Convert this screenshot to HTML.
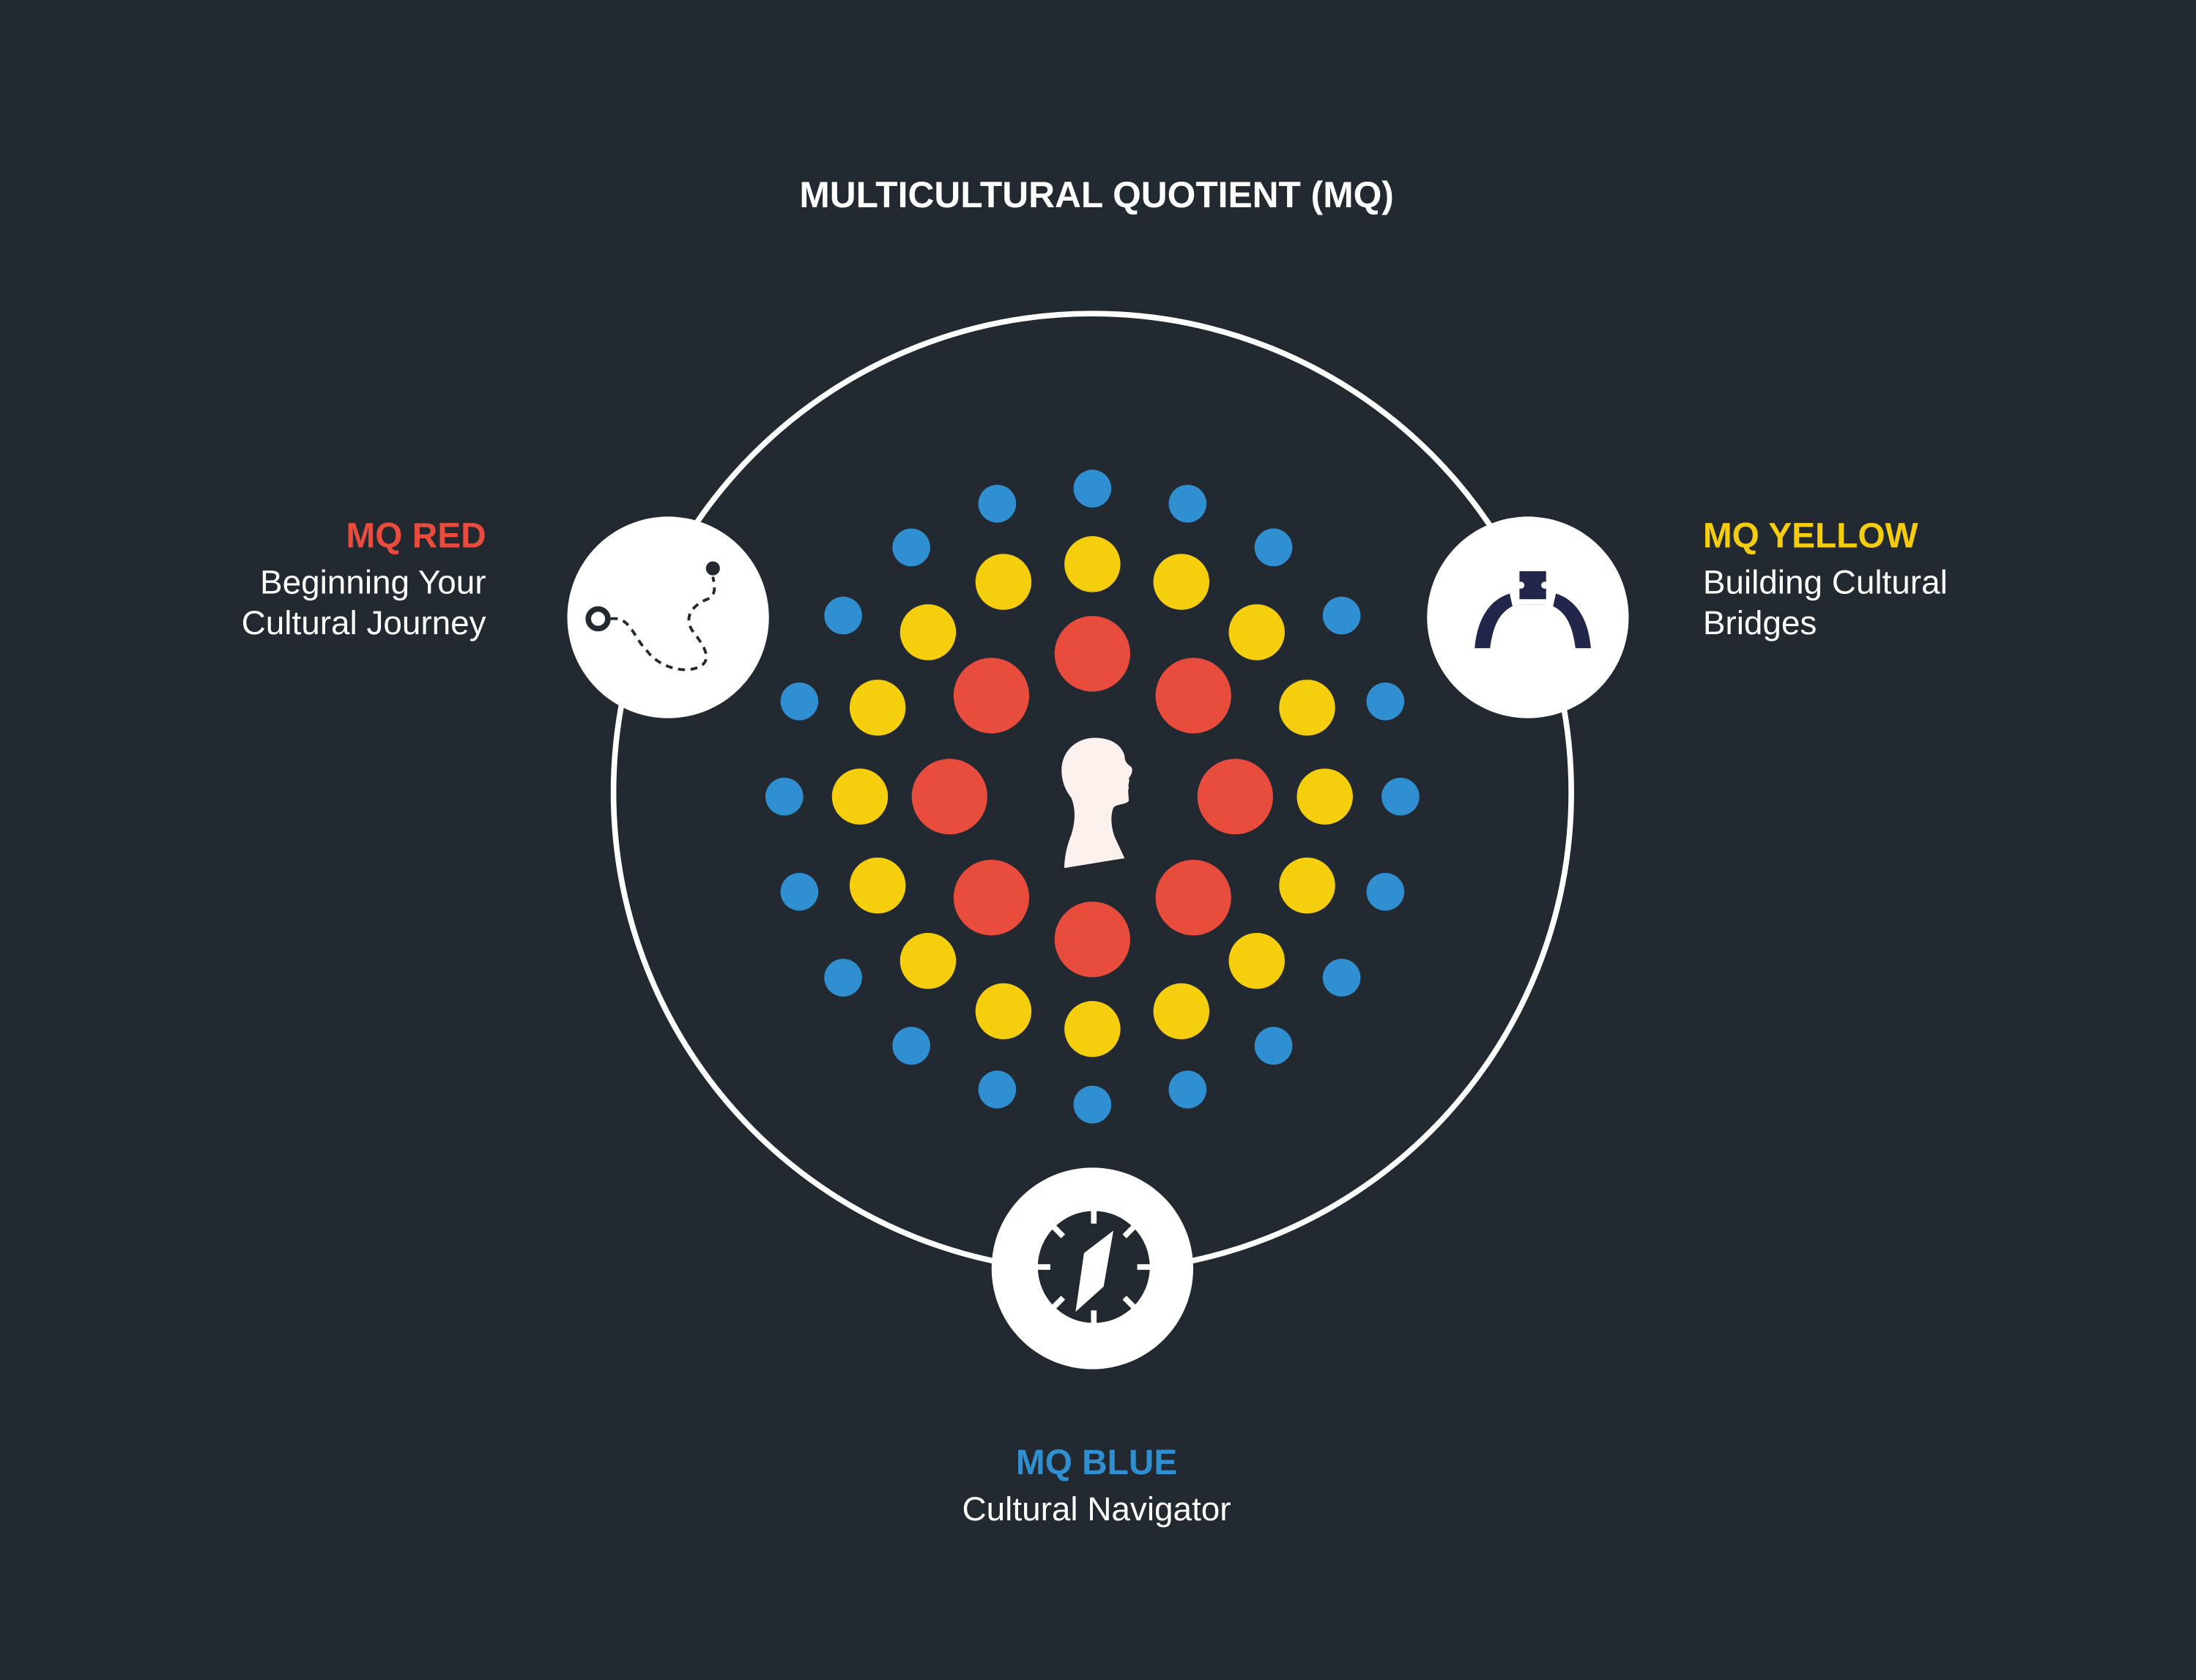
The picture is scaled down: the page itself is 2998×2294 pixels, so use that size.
<!DOCTYPE html>
<html><head><meta charset="utf-8"><style>
html,body{margin:0;padding:0;background:#232930;}
svg{display:block}
text{font-family:"Liberation Sans",sans-serif}
</style></head><body>
<svg id="chart" width="2998" height="2294" viewBox="0 0 1568 1200" xmlns="http://www.w3.org/2000/svg">
<rect width="1568" height="1200" fill="#232930"/>
<text x="783" y="148" text-anchor="middle" fill="#fff" font-size="26" font-weight="bold">MULTICULTURAL QUOTIENT (MQ)</text>
<circle cx="780" cy="566" r="342" fill="none" stroke="#fff" stroke-width="4"/>
<g id="dots"></g>
<path fill="#fdf1ed" d="M782 527 C768 527 758 537 758 550 C758 560 762 566 765 570 C768 578 768 586 765 596 C761 606 760 614 760 620 L803 613 L796 598 C793 590 793 582 795 577 C797 574 804 575 806 572 C806 568 805 565 806 563 C805 560 807 558 806 556 C808 553 809 551 808 548 C805 546 803 544 803 540 C801 532 793 527 782 527 Z"/>
<g>
<circle cx="477" cy="441" r="72" fill="#fff"/>
<circle cx="427" cy="442" r="7" fill="none" stroke="#232930" stroke-width="4"/>
<circle cx="509" cy="406" r="5" fill="#232930"/>
<path d="M436 442 C450 440 452 455 462 465 C470 476 488 482 500 476 C510 470 500 458 494 450 C488 440 495 432 505 428 C512 425 510 418 509 412" fill="none" stroke="#232930" stroke-width="2" stroke-dasharray="5 4"/>
</g>
<g>
<circle cx="1091" cy="441" r="72" fill="#fff"/>
<path d="M1053 463 C1055 440 1065 428 1078 424 L1080 433 C1070 438 1066 448 1064 463 Z M1136 463 C1134 440 1124 428 1111 424 L1109 433 C1119 438 1123 448 1125 463 Z" fill="#22264a"/>
<rect x="1085" y="408" width="19" height="24" fill="#22264a"/>
<rect x="1084" y="428" width="21" height="4" fill="#fff"/>
<circle cx="1086" cy="418" r="2.5" fill="#fff"/><circle cx="1103" cy="418" r="2.5" fill="#fff"/>
</g>
<g>
<circle cx="780" cy="906" r="72" fill="#fff"/>
<circle cx="781" cy="905" r="40" fill="#232930"/>
<g id="ticks" stroke="#fff" stroke-width="4"></g>
<path d="M795 879 L788 919 L768 937 L774 895 Z" fill="#fff"/>
</g>
<text x="347" y="391" text-anchor="end" fill="#e84c3d" font-size="25" font-weight="bold">MQ RED</text>
<text x="347" y="424" text-anchor="end" fill="#fff" font-size="24">Beginning Your</text>
<text x="347" y="453" text-anchor="end" fill="#fff" font-size="24">Cultural Journey</text>
<text x="1216" y="391" fill="#f5cd0f" font-size="25" font-weight="bold">MQ YELLOW</text>
<text x="1216" y="424" fill="#fff" font-size="24">Building Cultural</text>
<text x="1216" y="453" fill="#fff" font-size="24">Bridges</text>
<text x="783" y="1053" text-anchor="middle" fill="#2f8fd0" font-size="25" font-weight="bold">MQ BLUE</text>
<text x="783" y="1086" text-anchor="middle" fill="#fff" font-size="24">Cultural Navigator</text>
</svg>
<script>
const ringNames=['red','yellow','blue'];
const ringCounts=[8,16,20];
const ringDistances=[102,166,220];
const ringColors=['#e84c3d','#f5cf0e','#2f8fd0'];
const ringDotRadii=[27,20,13.5];
const cx=780, cy=569;
const g=document.getElementById('dots');
const NS='http://www.w3.org/2000/svg';
ringCounts.forEach((n,ri)=>{
  for(let i=0;i<n;i++){
    const a=-Math.PI/2+i*2*Math.PI/n;
    const c=document.createElementNS(NS,'circle');
    c.setAttribute('cx',cx+ringDistances[ri]*Math.cos(a));
    c.setAttribute('cy',cy+ringDistances[ri]*Math.sin(a));
    c.setAttribute('r',ringDotRadii[ri]);
    c.setAttribute('fill',ringColors[ri]);
    
    
    g.appendChild(c);
  }
});
const t=document.getElementById('ticks');
for(let i=0;i<8;i++){
  const a=i*Math.PI/4;
  const l=document.createElementNS(NS,'line');
  l.setAttribute('x1',781+31*Math.cos(a));l.setAttribute('y1',905+31*Math.sin(a));
  l.setAttribute('x2',781+41*Math.cos(a));l.setAttribute('y2',905+41*Math.sin(a));
  
  
  t.appendChild(l);
}
</script>
</body></html>
